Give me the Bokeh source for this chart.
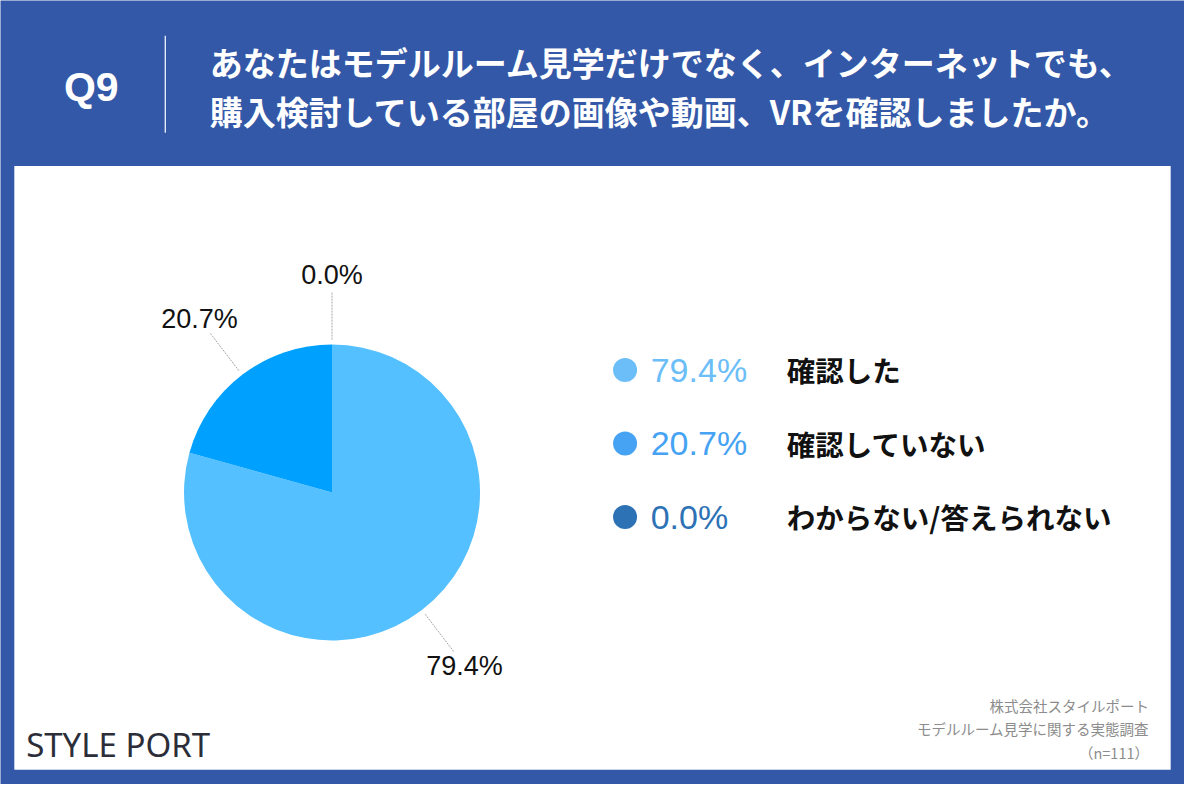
import math
from bokeh.plotting import figure
from bokeh.models import Range1d
from bokeh.core.properties import value
from bokeh.embed import file_html
from bokeh.resources import INLINE

# ---------------- data ----------------
categories = ["確認した", "確認していない", "わからない/答えられない"]
values = [79.4, 20.7, 0.0]
pie_colors = ["#55C0FF", "#00A0FF", "#2E72B6"]
legend_colors = ["#6CBEF8", "#46A2F2", "#2E72B6"]
question_no = "Q9"
title_lines = ["あなたはモデルルーム見学だけでなく、インターネットでも、",
               "購入検討している部屋の画像や動画、VRを確認しましたか。"]
source_lines = ["株式会社スタイルポート", "モデルルーム見学に関する実態調査", "（n=111）"]
logo_text = "STYLE PORT"

BLUE = "#3358A8"
JP = value("Noto Sans CJK JP")
LAT = value("Liberation Sans")

W, H = 1200, 800
def Y(y):
    return H - y

p = figure(width=1184, height=784, x_range=Range1d(0, W), y_range=Range1d(0, H),
           output_backend="svg", toolbar_location=None, min_border=0)
p.axis.visible = False
p.grid.visible = False
p.outline_line_color = None
p.background_fill_color = BLUE
p.border_fill_color = BLUE

# white panel
p.quad(left=[14], right=[1186], top=[Y(169)], bottom=[Y(785)], color="white", line_color=None)

# header
p.text(x=[92], y=[Y(88)], text=[question_no], text_font=LAT, text_font_style="bold",
       text_font_size="41px", text_color="white", text_align="center", text_baseline="middle")
p.segment(x0=[167], y0=[Y(36)], x1=[167], y1=[Y(135)], line_color="white", line_width=1.2)
p.text(x=[212, 212], y=[Y(63), Y(113)], text=title_lines, text_font=JP, text_font_style="bold",
       text_font_size="33px", text_color="white", text_align="left", text_baseline="middle")

# pie
cx, cy, R = 336, Y(502), 148
total = sum(values)
cum = 0.0
label_r, l0, l1 = 222, 156, 204
for v, c in zip(values, pie_colors):
    s = cum / total
    e = (cum + v) / total
    cum += v
    if v > 0:
        p.wedge(x=[cx], y=[cy], radius=R, radius_units="screen",
                start_angle=math.pi / 2 - 2 * math.pi * e,
                end_angle=math.pi / 2 - 2 * math.pi * s,
                color=c, line_color=None)
    mid = math.pi / 2 - 2 * math.pi * (s + e) / 2
    ca, sa = math.cos(mid), math.sin(mid)
    p.segment(x0=[cx + l0 * ca], y0=[cy + l0 * sa], x1=[cx + l1 * ca], y1=[cy + l1 * sa],
              line_color="#A8A8A8", line_width=1, line_dash="2 1")
    p.text(x=[cx + label_r * ca], y=[cy + label_r * sa], text=[f"{v:.1f}%"], text_font=LAT,
           text_font_size="27px", text_color="#111111", text_align="center", text_baseline="middle")

# legend
for i, (cat, v, c) in enumerate(zip(categories, values, legend_colors)):
    ly = Y(377 + 75 * i)
    p.scatter(x=[633], y=[ly], size=24, color=c, line_color=None)
    p.text(x=[659], y=[ly], text=[f"{v:.1f}%"], text_font=LAT, text_font_size="34px",
           text_color=c, text_align="left", text_baseline="middle")
    p.text(x=[797], y=[ly], text=[cat], text_font=JP, text_font_style="bold",
           text_font_size="28.5px", text_color="#111111", text_align="left", text_baseline="middle")

# footer
p.text(x=[26], y=[Y(759)], text=[logo_text], text_font=value("Noto Sans"),
       text_font_size="33px", text_color="#2B2E38", text_align="left", text_baseline="middle")
p.text(x=[1164, 1164, 1164], y=[Y(719), Y(743), Y(767)], text=source_lines, text_font=JP,
       text_font_style="normal", text_font_size="14.5px", text_color="#8C8C8C",
       text_align="right", text_baseline="middle")

open("out.html", "w").write(file_html(p, INLINE))
